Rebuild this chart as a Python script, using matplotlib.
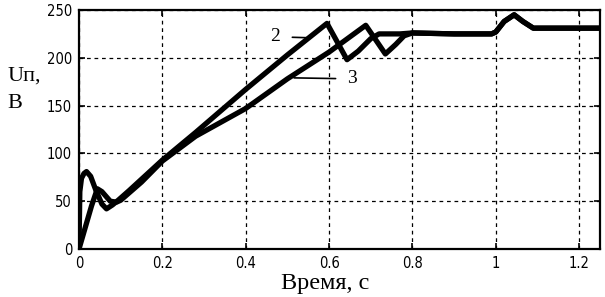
import matplotlib
matplotlib.use("Agg")
import matplotlib.pyplot as plt
from matplotlib import font_manager as fm

# Curve 2 (upper, peaks near 0.6 s)
t2 = [0, 0.002, 0.006, 0.012, 0.018, 0.028, 0.04, 0.055, 0.066, 0.08, 0.094, 0.12, 0.15,
      0.2, 0.28, 0.4, 0.5, 0.595, 0.643, 0.67, 0.7, 0.72, 0.77, 0.8, 0.9, 0.99,
      1.0, 1.02, 1.044, 1.065, 1.09, 1.15, 1.25]
v2 = [0, 60, 74, 79, 81, 76, 62, 47, 42, 46, 51, 61, 73,
      93, 122, 167, 203, 236, 198, 207, 220, 225, 225, 226, 225, 225,
      227, 238, 245, 238, 231, 231, 231]

# Curve 3 (lower, peaks near 0.69 s)
t3 = [0, 0.01, 0.02, 0.03, 0.044, 0.055, 0.075, 0.09, 0.1, 0.15,
      0.2, 0.28, 0.4, 0.5, 0.6, 0.688, 0.71, 0.735, 0.76, 0.78, 0.8, 0.9, 0.99,
      1.0, 1.02, 1.044, 1.065, 1.09, 1.15, 1.25]
v3 = [0, 15, 30, 45, 63, 60, 50, 49, 51, 70,
      92, 118, 147, 178, 206, 234, 220, 204, 214, 223, 226, 225, 225,
      227, 238, 245, 238, 231, 231, 231]

xticks = [0, 0.2, 0.4, 0.6, 0.8, 1.0, 1.2]
xticklabels = ["0", "0.2", "0.4", "0.6", "0.8", "1", "1.2"]
yticks = [0, 50, 100, 150, 200, 250]

fig = plt.figure(figsize=(6.05, 2.97), dpi=100)
ax = fig.add_axes([79/605, 48/297, 521/605, 239/297])

ax.plot(t2, v2, color="black", lw=3.8, solid_joinstyle="round", zorder=3)
ax.plot(t3, v3, color="black", lw=3.8, solid_joinstyle="round", zorder=3)

ax.set_xlim(0, 1.25)
ax.set_ylim(0, 250)
ax.set_xticks(xticks)
ax.set_xticklabels(xticklabels)
ax.set_yticks(yticks)
ax.grid(True, color="black", linestyle=(0, (3, 3)), lw=0.9)
for s in ax.spines.values():
    s.set_linewidth(1.6)
ax.tick_params(direction="in", length=4, width=1.2, pad=5,
               top=True, right=True)
tick_font = fm.FontProperties(family="DejaVu Sans", stretch="condensed", size=10.5)
for lab in ax.get_xticklabels() + ax.get_yticklabels():
    lab.set_fontproperties(tick_font)

serif = ["Liberation Serif", "DejaVu Serif"]
# annotations
ax.annotate("2", xy=(0.548, 221), xytext=(0.470, 222), fontsize=14, family=serif,
            va="center", ha="center",
            arrowprops=dict(arrowstyle="-", color="black", lw=1.2,
                            shrinkA=7, shrinkB=0))
ax.annotate("3", xy=(0.516, 179), xytext=(0.654, 178), fontsize=14, family=serif,
            va="center", ha="center",
            arrowprops=dict(arrowstyle="-", color="black", lw=1.2,
                            shrinkA=6, shrinkB=0))

fig.text(7/605, 1 - 76/297, "Uп,", fontsize=16, family=serif, va="center", ha="left")
fig.text(7/605, 1 - 103/297, "В", fontsize=16, family=serif, va="center", ha="left")
fig.text(325/605, 1 - 283/297, "Время, с", fontsize=17.5, family=serif,
         va="center", ha="center")

fig.savefig("out.png", dpi=100)
